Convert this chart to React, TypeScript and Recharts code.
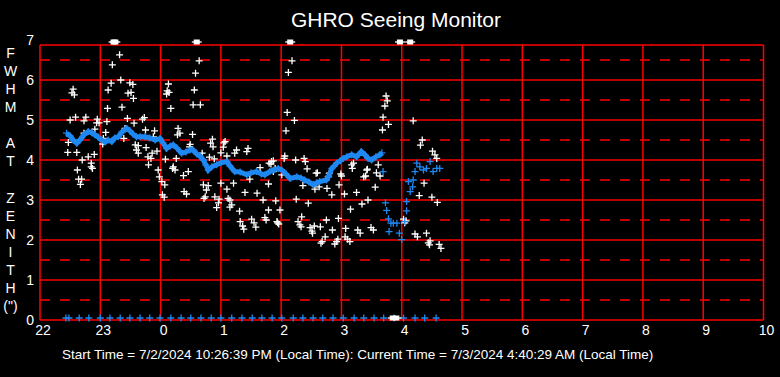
import { ScatterChart, Scatter, XAxis, YAxis, ReferenceLine } from 'recharts';

// x = hours after 22:00 local, y = FWHM (arcsec)
const hourTicks = [0, 1, 2, 3, 4, 5, 6, 7, 8, 9, 10, 11, 12];
const fwhmTicks = [0, 1, 2, 3, 4, 5, 6, 7];
const halfLines = [0.5, 1.5, 2.5, 3.5, 4.5, 5.5, 6.5];
const axisTitle = ['F', 'W', 'H', 'M', '', 'A', 'T', '', 'Z', 'E', 'N', 'I', 'T', 'H', '(")'];

// running average (blue band)
const blueTrend: [number, number][] = [
  [0.44, 4.67], [0.5, 4.6], [0.55, 4.5], [0.61, 4.42], [0.66, 4.5], [0.73, 4.63], [0.8, 4.71], [0.86, 4.68],
  [0.91, 4.63], [0.96, 4.58], [1.02, 4.5], [1.08, 4.45], [1.13, 4.5], [1.19, 4.46], [1.24, 4.55], [1.3, 4.58],
  [1.36, 4.7], [1.44, 4.79], [1.49, 4.73], [1.54, 4.65], [1.6, 4.58], [1.66, 4.58], [1.74, 4.58], [1.82, 4.55],
  [1.91, 4.5], [1.99, 4.54], [2.04, 4.43], [2.1, 4.29], [2.16, 4.35], [2.21, 4.38], [2.27, 4.3], [2.35, 4.17],
  [2.42, 4.2], [2.49, 4.25], [2.54, 4.25], [2.6, 4.15], [2.65, 4.1], [2.71, 4.0], [2.75, 3.88], [2.79, 3.75],
  [2.85, 3.83], [2.93, 3.88], [3.0, 3.93], [3.1, 3.96], [3.15, 3.85], [3.23, 3.71], [3.32, 3.7], [3.43, 3.63],
  [3.5, 3.68], [3.59, 3.71], [3.67, 3.65], [3.73, 3.63], [3.81, 3.71], [3.88, 3.75], [3.95, 3.79], [4.01, 3.75],
  [4.08, 3.65], [4.15, 3.54], [4.26, 3.58], [4.33, 3.55], [4.39, 3.5], [4.46, 3.45], [4.53, 3.38], [4.59, 3.43],
  [4.64, 3.46], [4.75, 3.5], [4.79, 3.6], [4.84, 3.79], [4.88, 3.85], [4.92, 3.92], [4.98, 3.98], [5.03, 4.04],
  [5.09, 4.08], [5.17, 4.13], [5.25, 4.08], [5.33, 4.21], [5.39, 4.13], [5.44, 4.04], [5.5, 4.0], [5.57, 4.08],
  [5.64, 4.13], [5.67, 4.18],
];

// blue points after the gap near 04:00
const blueLoose: [number, number][] = [
  [5.69, 3.71], [5.73, 2.93], [5.75, 2.74], [5.78, 2.53], [5.79, 2.21], [5.82, 2.42], [5.86, 2.42], [5.92, 2.42],
  [5.96, 2.17], [6.0, 2.01], [6.05, 2.46], [6.08, 2.73], [6.08, 2.96], [6.11, 3.46], [6.14, 3.21], [6.18, 3.33],
  [6.19, 3.5], [6.22, 3.71], [6.25, 3.92], [6.3, 3.83], [6.36, 3.75], [6.41, 3.79], [6.47, 3.96], [6.52, 3.71],
  [6.58, 3.79], [6.63, 3.79],
];

// individual measurements (white)
const samples: [number, number][] = [
  [0.47, 4.44], [0.46, 4.19], [0.5, 5.0], [0.53, 5.68], [0.55, 5.77], [0.57, 5.63], [0.59, 5.07], [0.61, 4.19],
  [0.62, 3.75], [0.64, 3.52], [0.69, 3.52], [0.67, 3.39], [0.7, 4.0], [0.73, 4.67], [0.73, 4.98], [0.76, 5.07],
  [0.8, 4.08], [0.85, 3.92], [0.87, 3.79], [0.85, 3.83], [0.9, 4.14], [0.91, 4.77], [0.95, 5.02], [0.94, 4.93],
  [0.98, 4.93], [1.04, 4.4], [1.05, 4.54], [1.09, 4.69], [1.11, 4.96], [1.12, 5.29], [1.13, 5.75], [1.18, 5.92],
  [1.2, 6.38], [1.32, 6.63], [1.34, 6.0], [1.36, 5.32], [1.39, 4.54], [1.41, 4.79], [1.45, 5.04], [1.46, 5.67],
  [1.49, 5.93], [1.51, 5.69], [1.54, 5.89], [1.55, 5.54], [1.56, 4.92], [1.58, 4.38], [1.6, 4.25], [1.63, 4.36],
  [1.63, 4.17], [1.7, 5.02], [1.73, 5.06], [1.75, 4.75], [1.76, 4.31], [1.79, 4.08], [1.8, 3.88], [1.84, 4.04],
  [1.86, 4.17], [1.88, 4.58], [1.9, 4.73], [1.94, 4.22], [1.96, 3.75], [1.98, 3.58], [2.02, 3.46], [2.03, 3.13],
  [2.06, 3.07], [2.07, 3.38], [2.08, 4.02], [2.1, 5.65], [2.11, 5.73], [2.13, 5.9], [2.14, 5.69], [2.17, 5.29],
  [2.2, 3.79], [2.21, 3.83], [2.24, 3.75], [2.26, 4.04], [2.28, 4.63], [2.29, 4.79], [2.32, 4.67], [2.38, 3.61],
  [2.39, 3.21], [2.43, 3.15], [2.46, 3.71], [2.48, 4.33], [2.49, 4.39], [2.53, 4.64], [2.54, 5.38], [2.56, 5.75],
  [2.58, 6.17], [2.64, 6.48], [2.66, 5.38], [2.69, 4.17], [2.71, 3.38], [2.74, 3.08], [2.76, 3.25], [2.79, 3.36],
  [2.72, 3.04], [2.81, 4.07], [2.83, 4.42], [2.86, 4.52], [2.87, 4.33], [2.89, 4.03], [2.9, 3.08], [2.93, 2.81],
  [2.96, 2.93], [2.97, 3.02], [3.0, 3.42], [3.0, 4.18], [3.04, 4.32], [3.05, 4.43], [3.07, 4.46], [3.1, 4.1],
  [3.1, 3.27], [3.12, 3.04], [3.15, 3.0], [3.18, 2.88], [3.15, 2.82], [3.21, 3.42], [3.23, 4.17], [3.26, 4.25],
  [3.31, 2.72], [3.32, 2.46], [3.36, 2.35], [3.38, 2.27], [3.4, 3.19], [3.43, 4.21], [3.45, 4.29], [3.48, 3.52],
  [3.51, 2.52], [3.55, 2.43], [3.58, 2.32], [3.6, 3.17], [3.65, 3.81], [3.7, 3.0], [3.73, 2.56], [3.75, 2.5],
  [3.79, 2.75], [3.79, 3.4], [3.8, 3.92], [3.83, 3.9], [3.84, 3.96], [3.87, 3.98], [3.87, 3.71], [3.9, 3.79],
  [3.91, 2.98], [3.93, 2.46], [3.96, 2.4], [3.94, 2.43], [3.98, 2.75], [4.01, 3.63], [4.05, 4.04], [4.06, 4.1],
  [4.08, 4.73], [4.1, 5.19], [4.12, 6.19], [4.18, 6.48], [4.22, 4.99], [4.24, 4.0], [4.25, 3.02], [4.28, 2.46],
  [4.31, 2.38], [4.33, 2.33], [4.34, 2.58], [4.36, 3.36], [4.38, 4.04], [4.4, 3.96], [4.43, 3.78], [4.45, 2.92],
  [4.48, 2.31], [4.51, 2.22], [4.52, 2.17], [4.55, 2.35], [4.56, 3.27], [4.58, 3.67], [4.6, 3.68], [4.63, 3.33],
  [4.65, 2.33], [4.66, 1.92], [4.68, 1.96], [4.73, 2.08], [4.75, 2.5], [4.76, 3.29], [4.78, 3.58], [4.8, 3.67],
  [4.84, 3.13], [4.85, 2.25], [4.89, 1.9], [4.92, 1.96], [4.94, 2.02], [4.95, 2.54], [4.96, 3.38], [4.99, 3.65],
  [5.0, 3.6], [5.05, 3.15], [5.06, 2.08], [5.07, 2.29], [5.1, 2.02], [5.14, 1.96], [5.15, 2.77], [5.17, 3.88],
  [5.18, 3.79], [5.2, 3.92], [5.25, 3.19], [5.27, 2.25], [5.31, 2.17], [5.34, 2.9], [5.37, 3.58], [5.4, 3.6],
  [5.42, 3.75], [5.43, 3.77], [5.44, 3.0], [5.49, 2.31], [5.53, 2.25], [5.56, 3.32], [5.58, 3.68], [5.61, 3.88],
  [5.64, 3.6], [5.68, 4.75], [5.69, 5.07], [5.72, 5.35], [5.74, 5.6], [5.76, 5.48], [5.78, 4.89], [6.03, 2.52],
  [6.05, 2.43], [6.07, 2.48], [6.19, 4.98], [6.22, 2.15], [6.26, 2.08], [6.29, 3.11], [6.31, 4.37], [6.34, 4.5],
  [6.37, 3.42], [6.41, 2.17], [6.44, 1.93], [6.47, 1.98], [6.46, 1.88], [6.5, 3.07], [6.51, 4.22], [6.55, 4.13],
  [6.58, 4.04], [6.59, 2.94], [6.62, 1.89], [6.65, 1.79],
];

// off-scale readings pinned to the top
const offScale = [1.22, 1.25, 2.6, 4.15, 5.97, 6.14];
// markers along the bottom
const zeroMarks = [
  0.43, 0.48, 0.65, 0.81, 1.0, 1.16, 1.33, 1.49, 1.66, 1.82, 1.99, 2.17, 2.34, 2.5, 2.67, 2.84, 3.0, 3.18, 3.35,
  3.52, 3.68, 3.85, 4.01, 4.2, 4.36, 4.53, 4.69, 4.86, 5.03, 5.21, 5.37, 5.54, 5.7, 5.87, 6.03, 6.22, 6.38, 6.57,
];
const zeroSquares = [5.85, 5.91];
const topLevel = 6.95;
const bottomLevel = 0.05;

const toPts = (arr: [number, number][]) => arr.map(([t, v]) => ({ t, v }));

const RED = '#ff0000';
const BLUE = '#1f88f2';
const FONT = '"Liberation Sans", Arial, sans-serif';

const cross = (color: string, r = 3.5) => (p: any) => {
  if (p.cx == null || p.cy == null) return <g />;
  return (
    <path
      d={`M${p.cx - r},${p.cy}H${p.cx + r}M${p.cx},${p.cy - r}V${p.cy + r}`}
      stroke={color}
      strokeWidth={1.3}
      fill="none"
    />
  );
};

const boxMark = (p: any) => {
  if (p.cx == null || p.cy == null) return <g />;
  return (
    <g>
      <rect x={p.cx - 3} y={p.cy - 2.5} width={6} height={5} fill="#fff" />
      <path d={`M${p.cx - 5},${p.cy}H${p.cx + 5}`} stroke="#fff" strokeWidth={1.3} />
    </g>
  );
};

const App = () => {
  return (
    <div style={{ position: 'absolute', left: 0, top: 0, width: 780, height: 377, background: '#000', fontFamily: FONT }}>
      <div style={{ position: 'absolute', left: 0, top: 8, width: 792, textAlign: 'center', color: '#fff', fontSize: 21, lineHeight: '24px' }}>
        GHRO Seeing Monitor
      </div>
      <div style={{ position: 'absolute', left: 0, top: 44, width: 21, textAlign: 'center', color: '#fff', fontSize: 14, lineHeight: '18.07px' }}>
        {axisTitle.map((c, i) => (
          <div key={i}>{c || '\u00a0'}</div>
        ))}
      </div>
      <ScatterChart width={780} height={377} margin={{ top: 40, right: 16.5, bottom: 27, left: 0 }}>
        <XAxis
          type="number"
          dataKey="t"
          domain={[0, 12]}
          ticks={hourTicks}
          tickFormatter={(h: number) => String((22 + h) % 24)}
          axisLine={false}
          tickLine={false}
          tickSize={0}
          tickMargin={5}
          height={30}
          tick={{ fill: '#fff', fontSize: 14, fontFamily: FONT, dx: 3 }}
        />
        <YAxis
          type="number"
          dataKey="v"
          domain={[0, 7]}
          ticks={fwhmTicks}
          axisLine={false}
          tickLine={false}
          tickSize={0}
          tickMargin={6}
          width={40}
          tick={{ fill: '#fff', fontSize: 14, fontFamily: FONT }}
        />
        {halfLines.map((y) => (
          <ReferenceLine key={'d' + y} y={y} stroke={RED} strokeWidth={1.5} strokeDasharray="10 10" />
        ))}
        {[0, 1, 2, 3, 4, 5, 6, 6.875].map((y) => (
          <ReferenceLine key={'h' + y} y={y} stroke={RED} strokeWidth={1.5} />
        ))}
        {hourTicks.map((h) => (
          <ReferenceLine key={'v' + h} segment={[{ x: h, y: 0 }, { x: h, y: 6.875 }]} stroke={RED} strokeWidth={1.5} />
        ))}
        <Scatter data={toPts(samples)} shape={cross('#fff')} isAnimationActive={false} />
        <Scatter
          data={toPts(blueTrend)}
          shape={cross(BLUE)}
          line={{ stroke: BLUE, strokeWidth: 5 }}
          isAnimationActive={false}
        />
        <Scatter data={toPts(blueLoose)} shape={cross(BLUE)} isAnimationActive={false} />
        <Scatter data={zeroMarks.map((t) => ({ t, v: bottomLevel }))} shape={cross(BLUE)} isAnimationActive={false} />
        <Scatter data={zeroSquares.map((t) => ({ t, v: bottomLevel }))} shape={boxMark} isAnimationActive={false} />
        <Scatter data={offScale.map((t) => ({ t, v: topLevel }))} shape={boxMark} isAnimationActive={false} />
      </ScatterChart>
      <div style={{ position: 'absolute', left: 62, top: 347, color: '#fff', fontSize: 13.5, lineHeight: '16px', whiteSpace: 'nowrap' }}>
        Start Time = 7/2/2024 10:26:39 PM (Local Time): Current Time = 7/3/2024 4:40:29 AM (Local Time)
      </div>
    </div>
  );
};

export default App;
